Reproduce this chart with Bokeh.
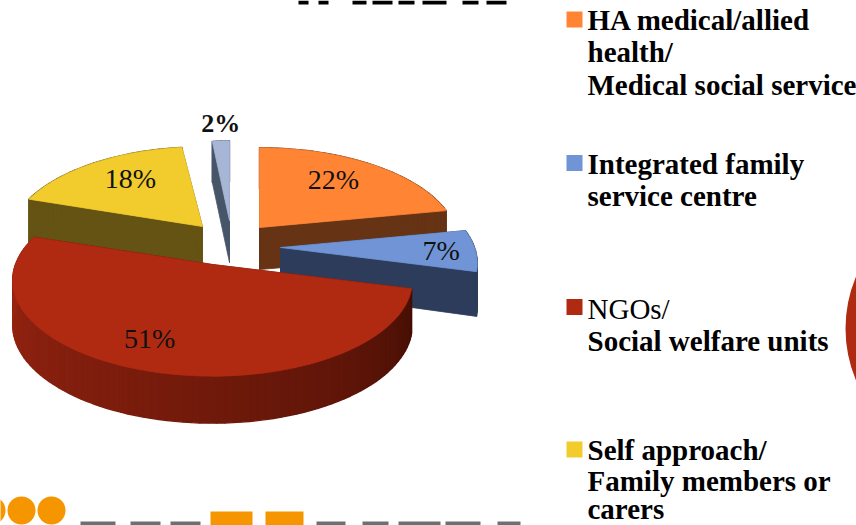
import math
from bokeh.plotting import figure
from bokeh.embed import file_html
from bokeh.resources import INLINE
from bokeh.core.properties import value

# --- data -------------------------------------------------------------
categories = ["HA medical/allied health/ Medical social service",
              "Integrated family service centre",
              "NGOs/ Social welfare units",
              "Self approach/ Family members or carers",
              "Others"]
shares = [22, 7, 51, 18, 2]
labels = ["22%", "7%", "51%", "18%", "2%"]
top_colors = ["#FF8535", "#7094D6", "#B02A12", "#F2CB2C", "#A7B5D6"]
side_colors = ["#663314", "#2D3C5A", "#5A1408", "#655313", "#475569"]
legend_lines = [["HA medical/allied", "health/", "Medical social service"],
                ["Integrated family", "service centre"],
                ["NGOs/", "Social welfare units"],
                ["Self approach/", "Family members or", "carers"]]

# --- layout (pixel space of the page crop) ----------------------------
cx, cy, a, b, k = 212, 264, 200, 93, 0.167
offsets = [(47, -37), (68, -17), (0, 0), (-10, -38), (17, -44)]
x_scale = [0.98, 0.97, 0.985, 0.96, 0.8]
label_frac = [0.6, 0.8, 0.78, 0.6, 1.23]
label_shift = [(3, -8), (0, 1), (-13, -6), (-1, -8), (4, -2)]
label_size = ["28px", "28px", "28px", "28px", "26px"]
label_bold = [False, False, False, False, True]
draw_order = [4, 3, 0, 1, 2]
swatch_y = [19, 162.5, 306.5, 449]
line_y = [[19, 51, 84], [163, 195], [308, 340], [449, 480, 508]]
legend_x, swatch_x, swatch_size = 587, 574, 16
SERIF = "Liberation Serif"

# cut-off slide content along the top and bottom edges
orange_left, orange_right, orange_top = [210, 265], [252, 303], [511, 511]
grey_left = [80, 130, 170, 316, 362, 398, 445, 497]
grey_right = [115, 160, 200, 345, 388, 440, 480, 520]
title_left = [298, 318, 352, 372, 398, 422, 462, 486]
title_right = [308, 328, 366, 392, 414, 446, 478, 506]


def proj(theta, r, ox=0, oy=0, xs=1.0):
    X, Y = r * math.sin(theta), r * math.cos(theta)
    s = 1 / (1 + k * Y)
    return cx + ox + a * xs * X * s, cy + oy - b * Y * s


def depth(theta, r=1.0):
    return 44 - 3 * r * math.cos(theta)


def mix(c1, c2, t):
    v = [round(c1[i] + (c2[i] - c1[i]) * t) for i in range(3)]
    return "#%02x%02x%02x" % tuple(v)


p = figure(width=856, height=525, x_range=(0, 856), y_range=(525, 0),
           output_backend="svg", toolbar_location=None, min_border=0)
p.axis.visible = False
p.grid.visible = False
p.outline_line_color = None
p.background_fill_color = "white"
p.border_fill_color = "white"

# slice boundaries from the shares
starts, run = [], 0.0
for v in shares:
    starts.append(run / sum(shares) * 2 * math.pi)
    run += v
ends = starts[1:] + [2 * math.pi]


def poly(xs, ys, color, lw=0.8):
    p.patch(xs, ys, fill_color=color, line_color=color, line_width=lw)


for i in draw_order:
    t0, t1 = starts[i], ends[i]
    ox, oy = offsets[i]
    sx = x_scale[i]
    n = max(4, int((t1 - t0) / math.radians(2)))
    ts = [t0 + (t1 - t0) * j / n for j in range(n + 1)]
    ax, ay = proj(0, 0, ox, oy, sx)
    # radial walls
    for t in (t0, t1):
        ex, ey = proj(t, 1, ox, oy, sx)
        d = depth(t)
        poly([ax, ex, ex, ax], [ay, ey, ey + d, ay + 42], side_colors[i])
    # rim
    for j in range(n):
        x0, y0 = proj(ts[j], 1, ox, oy, sx)
        x1, y1 = proj(ts[j + 1], 1, ox, oy, sx)
        if i == 2:
            f = (ts[j] - t0) / (t1 - t0)
            col = mix((0x43, 0x0E, 0x04), (0xA0, 0x26, 0x12), f ** 0.8)
        else:
            col = side_colors[i]
        poly([x0, x1, x1, x0], [y0, y1, y1 + depth(ts[j + 1]), y0 + depth(ts[j])], col, 1.4)
    # top surface
    xs, ys = [ax], [ay]
    for t in ts:
        x, y = proj(t, 1, ox, oy, sx)
        xs.append(x)
        ys.append(y)
    poly(xs, ys, top_colors[i])

# data labels
for i, lab in enumerate(labels):
    mid = (starts[i] + ends[i]) / 2
    x, y = proj(mid, label_frac[i], *offsets[i])
    p.text([x + label_shift[i][0]], [y + label_shift[i][1]], text=[lab],
           text_font=value(SERIF), text_font_size=label_size[i],
           text_font_style="bold" if label_bold[i] else "normal",
           text_color="#111111", text_align="center", text_baseline="middle")

# legend
for i, lines in enumerate(legend_lines):
    p.scatter([swatch_x], [swatch_y[i]], marker="square", size=swatch_size,
              fill_color=top_colors[i], line_color=top_colors[i], line_width=0)
    for j, line in enumerate(lines):
        p.text([legend_x], [line_y[i][j]], text=[line], text_font=value(SERIF),
               text_font_size="29px",
               text_font_style="normal" if line == "NGOs/" else "bold",
               text_color="#000000", text_align="left", text_baseline="middle")

# fragments of neighbouring slide content
p.circle([-9, 21, 51], [510, 510, 510], radius=14, fill_color="#F59500", line_color=None)
p.ellipse([978], [328], width=266, height=266, fill_color="#B02A12", line_color=None)
p.quad(left=orange_left, right=orange_right, top=orange_top, bottom=[525, 525],
       fill_color="#F59500", line_color=None)
p.quad(left=grey_left, right=grey_right, top=[521] * len(grey_left),
       bottom=[525] * len(grey_left), fill_color="#6B7172", line_color=None)
p.quad(left=title_left, right=title_right, top=[0] * len(title_left),
       bottom=[4] * len(title_left), fill_color="#000000", line_color=None)

open("out.html", "w").write(file_html(p, INLINE))
